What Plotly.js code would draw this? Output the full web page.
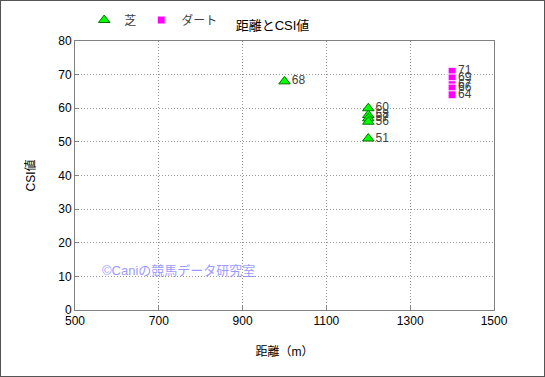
<!DOCTYPE html>
<html><head><meta charset="utf-8">
<script src="https://cdn.plot.ly/plotly-3.0.1.min.js"></script>
<style>
html,body{margin:0;padding:0;background:#fff;}
#chart{width:545px;height:377px;box-sizing:border-box;border:1px solid #555;}
</style></head>
<body><div id="chart"></div>
<script>
const turfDist = [1000, 1200, 1200, 1200, 1200, 1200];
const turfCSI  = [68, 60, 58, 57, 56, 51];
const dirtDist = [1400, 1400, 1400, 1400, 1400];
const dirtCSI  = [71, 69, 67, 66, 64];
const xTicks = [500, 700, 900, 1100, 1300, 1500];
const yTicks = [0, 10, 20, 30, 40, 50, 60, 70, 80];

const FONT = 'Liberation Sans, Noto Sans CJK JP, sans-serif';
const traces = [
  {x: turfDist, y: turfCSI, name: '芝', type: 'scatter', mode: 'markers+text',
   text: turfCSI.map(String), textposition: 'middle right',
   textfont: {size: 12, color: '#404040', family: FONT},
   marker: {symbol: 'triangle-up', size: 10, color: '#00ff00', line: {color: '#007000', width: 1}}},
  {x: dirtDist, y: dirtCSI, name: 'ダート', type: 'scatter', mode: 'markers+text',
   text: dirtCSI.map(String), textposition: 'middle right',
   textfont: {size: 12, color: '#404040', family: FONT},
   marker: {symbol: 'square', size: 8, color: '#ff00ff', line: {color: '#ffffff', width: 1}}}
];
const layout = {
  width: 543, height: 375,
  margin: {l: 74, r: 50, t: 40, b: 66, autoexpand: false},
  paper_bgcolor: '#fff', plot_bgcolor: '#fff',
  font: {family: FONT, size: 12, color: '#000'},
  title: {text: '距離とCSI値', x: 0.5, xanchor: 'center', y: 0.935, yanchor: 'middle',
          font: {size: 13, color: '#000', family: FONT}},
  showlegend: true,
  legend: {orientation: 'h', x: 0.022, y: 1.078, xanchor: 'left', yanchor: 'middle',
           font: {size: 12, color: '#404040', family: FONT}, bgcolor: 'rgba(0,0,0,0)',
           itemwidth: 30, tracegroupgap: 0},
  xaxis: {range: [500, 1500], tickvals: xTicks, ticktext: xTicks.map(String),
          showgrid: true, gridcolor: '#9a9a9a', griddash: '1px,2px', gridwidth: 1,
          showline: true, linecolor: '#808080', linewidth: 1, mirror: true,
          ticks: 'inside', ticklen: 4, tickcolor: '#808080', zeroline: false,
          tickfont: {size: 12, color: '#000'},
          title: {text: '距離（m）', font: {size: 12, color: '#000'}, standoff: 20}},
  yaxis: {range: [0, 80], tickvals: yTicks, ticktext: yTicks.map(String),
          showgrid: true, gridcolor: '#9a9a9a', griddash: '1px,2px', gridwidth: 1,
          showline: true, linecolor: '#808080', linewidth: 1, mirror: true,
          ticks: 'inside', ticklen: 4, tickcolor: '#808080', zeroline: false,
          tickfont: {size: 12, color: '#000'},
          title: {text: 'CSI値', font: {size: 12, color: '#000'}, standoff: 20}},
  annotations: [{xref: 'paper', yref: 'paper', x: 0.06, y: 0.145, xanchor: 'left', yanchor: 'middle',
                 text: '©Caniの競馬データ研究室', showarrow: false,
                 font: {size: 13, color: 'rgba(120,120,255,0.75)', family: FONT}}]
};
Plotly.newPlot('chart', traces, layout, {displayModeBar: false, staticPlot: true});
</script></body></html>
